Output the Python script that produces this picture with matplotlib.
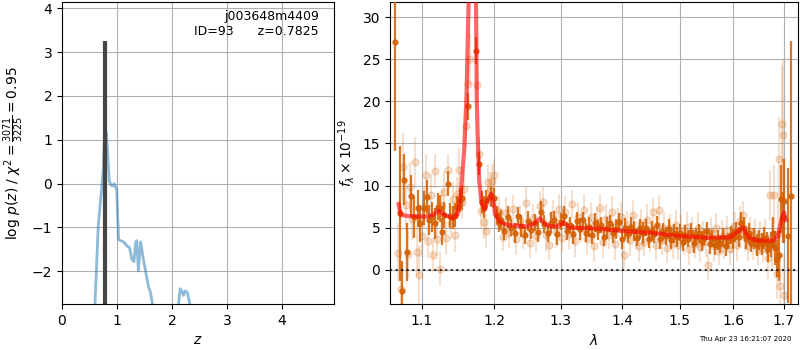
import matplotlib
matplotlib.use('Agg')
import matplotlib.pyplot as plt
from matplotlib.ticker import FixedLocator, NullLocator, FormatStrFormatter

# Redshift fit: log p(z)
pz_z = [0.55, 0.60, 0.66, 0.72, 0.75, 0.767, 0.794, 0.81, 0.86, 0.90, 0.93, 0.95,
        0.964, 0.994, 1.03, 1.06, 1.12, 1.18, 1.23, 1.27, 1.31, 1.34, 1.36, 1.39,
        1.43, 1.48, 1.57, 1.61, 1.66, 1.75, 2.08, 2.12, 2.15, 2.18, 2.21, 2.24,
        2.28, 2.31, 2.34, 2.40]
pz_logp = [-4.5, -2.75, -0.96, -0.13, 0.33, 0.9, 1.2, 1.15, 0.06, -0.05, -0.05, 0.0,
           -0.04, -0.13, -1.27, -1.3, -1.33, -1.42, -1.46, -1.72, -1.78, -1.35, -1.3, -1.99,
           -1.33, -1.72, -2.33, -2.48, -2.85, -4.5, -4.5, -2.75, -2.4, -2.45, -2.55, -2.45,
           -2.48, -2.65, -2.85, -4.5]
z_best = 0.7825
pz_peak = 3.25

# Spectrum, binned (dark) points
wave_dark = [1.066, 1.0713, 1.0743, 1.0775, 1.0803, 1.0855, 1.0896, 1.0946, 1.0983, 1.1038,
             1.107, 1.1102, 1.1143, 1.118, 1.1216, 1.125, 1.1269, 1.1298, 1.1355, 1.1385,
             1.142, 1.145, 1.148, 1.1523, 1.1553, 1.1633, 1.1742, 1.1781, 1.1822, 1.185,
             1.1882, 1.1955, 1.200, 1.2044, 1.2072,
             1.210, 1.215, 1.220, 1.225, 1.230, 1.235, 1.240, 1.245, 1.250, 1.255,
             1.260, 1.265, 1.270, 1.275, 1.280, 1.285, 1.290, 1.295, 1.300, 1.305,
             1.310, 1.315, 1.320, 1.325, 1.330, 1.335, 1.340, 1.345, 1.350, 1.355,
             1.360, 1.365, 1.370, 1.375, 1.380, 1.385, 1.390, 1.395, 1.400, 1.405,
             1.410, 1.415, 1.420, 1.425, 1.430, 1.435, 1.440, 1.445, 1.450, 1.455,
             1.460, 1.465, 1.470, 1.475, 1.480, 1.485, 1.490, 1.495, 1.500, 1.505,
             1.510, 1.515, 1.520, 1.525, 1.530, 1.535, 1.540, 1.545, 1.550, 1.555,
             1.560, 1.565, 1.570, 1.575, 1.580, 1.585, 1.590, 1.595, 1.600, 1.605,
             1.610, 1.615, 1.620, 1.625, 1.630, 1.635, 1.640, 1.645, 1.650, 1.655,
             1.660,
             1.665, 1.668, 1.673, 1.678, 1.682, 1.685, 1.690, 1.694, 1.698, 1.701,
             1.708, 1.714]
flux_dark = [27.1, 6.7, -2.5, 10.7, 2.1, 8.7, 6.3, 7.3, 5.5, 7.3,
             8.6, 5.9, 6.3, 5.5, 7.5, 7.3, 4.5, 6.5, 10.2, 6.4,
             6.2, 6.5, 7.4, 8.3, 8.5, 19.4, 26.0, 12.6, 8.0, 7.4,
             8.3, 8.7, 8.5, 6.5, 5.6,
             5.9, 4.6, 6.3, 5.0, 4.4, 6.4, 5.2, 4.1, 5.8, 4.7,
             5.6, 4.5, 6.9, 5.4, 4.3, 5.6, 5.9, 4.2, 5.7, 6.4,
             4.6, 5.3, 4.2, 5.8, 4.8, 5.9, 4.4, 5.1, 4.1, 5.6,
             4.7, 5.3, 3.9, 4.9, 5.5, 4.3, 4.8, 5.7, 3.6, 4.9,
             4.2, 5.1, 4.6, 3.8, 4.9, 4.4, 5.0, 3.7, 4.6, 4.2,
             5.3, 3.6, 4.5, 4.0, 4.8, 3.5, 4.3, 3.9, 4.4, 3.3,
             4.1, 3.7, 4.5, 3.2, 3.9, 4.3, 3.4, 3.8, 4.6, 3.1,
             3.7, 2.9, 3.5, 3.0, 3.9, 2.8, 3.4, 4.1, 3.6, 4.6,
             3.9, 5.5, 5.0, 3.6, 4.3, 3.2, 3.7, 2.9, 3.5, 3.1,
             3.8,
             3.2, 2.45, 3.0, 4.4, 2.6, 1.3, 1.7, 8.4, 6.2, 8.2,
             4.05, 8.7]
err_dark = [13.0, 8.0, 3.5, 3.0, 3.5, 2.5, 2.5, 2.2, 2.2, 2.0,
            2.0, 1.8, 1.8, 1.8, 1.6, 1.6, 1.6, 1.5, 1.5, 1.5,
            1.4, 1.4, 1.4, 1.4, 1.4, 1.6, 1.6, 1.4, 1.3, 1.3,
            1.2, 1.2, 1.2, 1.1, 1.1,
            1.2, 1.1, 1.3, 1.0, 1.2, 1.1, 1.3, 1.0, 1.2, 1.1,
            1.0, 1.2, 1.3, 1.1, 1.0, 1.2, 1.1, 1.3, 1.0, 1.2,
            1.1, 1.0, 1.2, 1.1, 1.3, 1.0, 1.1, 1.2, 1.0, 1.1,
            1.2, 1.0, 1.1, 1.3, 1.0, 1.1, 1.2, 1.0, 1.1, 1.2,
            1.0, 1.1, 1.2, 1.0, 1.1, 1.3, 1.0, 1.1, 1.2, 1.0,
            1.1, 1.2, 1.0, 1.1, 1.2, 1.0, 1.1, 1.2, 1.0, 1.1,
            1.2, 1.0, 1.1, 1.2, 1.0, 1.1, 1.2, 1.0, 1.1, 1.2,
            1.0, 1.1, 1.2, 1.0, 1.1, 1.2, 1.0, 1.1, 1.2, 1.1,
            1.2, 1.3, 1.2, 1.1, 1.2, 1.1, 1.2, 1.3, 1.2, 1.3,
            1.3,
            1.3, 1.5, 1.5, 1.8, 2.0, 2.2, 3.0, 4.0, 3.0, 5.0,
            8.0, 18.5]

# Spectrum, individual (light) points
wave_light = [1.069, 1.073, 1.076, 1.079, 1.082, 1.085, 1.088, 1.091, 1.094, 1.097,
              1.100, 1.103, 1.106, 1.109, 1.112, 1.115, 1.118, 1.121, 1.124, 1.127,
              1.130, 1.133, 1.136, 1.139, 1.142, 1.145, 1.148, 1.151, 1.154, 1.157,
              1.160, 1.163, 1.166, 1.176, 1.179, 1.182, 1.185, 1.188, 1.191, 1.194,
              1.197, 1.200, 1.203,
              1.2075, 1.2125, 1.2175, 1.2225, 1.2275, 1.2325, 1.2375, 1.2425, 1.2475, 1.2525,
              1.2575, 1.2625, 1.2675, 1.2725, 1.2775, 1.2825, 1.2875, 1.2925, 1.2975, 1.3025,
              1.3075, 1.3125, 1.3175, 1.3225, 1.3275, 1.3325, 1.3375, 1.3425, 1.3475, 1.3525,
              1.3575, 1.3625, 1.3675, 1.3725, 1.3775, 1.3825, 1.3875, 1.3925, 1.3975, 1.4025,
              1.4075, 1.4125, 1.4175, 1.4225, 1.4275, 1.4325, 1.4375, 1.4425, 1.4475, 1.4525,
              1.4575, 1.4625, 1.4675, 1.4725, 1.4775, 1.4825, 1.4875, 1.4925, 1.4975, 1.5025,
              1.5075, 1.5125, 1.5175, 1.5225, 1.5275, 1.5325, 1.5375, 1.5425, 1.5475, 1.5525,
              1.5575, 1.5625, 1.5675, 1.5725, 1.5775, 1.5825, 1.5875, 1.5925, 1.5975, 1.6025,
              1.6075, 1.6125, 1.6175, 1.6225, 1.6275, 1.6325, 1.6375, 1.6425, 1.6475, 1.6525,
              1.6575,
              1.6625, 1.6675, 1.672, 1.676, 1.680, 1.685, 1.688, 1.6905, 1.693, 1.696,
              1.699, 1.701]
flux_light = [2.0, -2.3, 12.2, 7.7, 1.9, 9.8, 6.0, 12.8, 2.1, -0.6,
              4.0, 7.4, 11.2, 3.4, 8.9, 1.8, 11.7, 3.6, 0.1, 7.6,
              9.2, 3.8, 11.8, 5.6, 8.4, 4.1, 9.0, 11.9, 8.0, 9.6,
              17.1, 22.1, 25.0, 21.9, 13.8, 7.0, 5.7, 4.6, 10.4, 9.6,
              10.5, 11.3, 6.8,
              7.0, 3.9, 6.7, 4.4, 7.2, 3.7, 5.9, 4.2, 7.9, 3.2,
              6.1, 4.0, 7.6, 8.1, 4.1, 2.9, 6.6, 4.5, 7.2, 3.8,
              6.9, 4.2, 7.8, 3.4, 6.2, 5.0, 7.1, 3.6, 6.3, 2.8,
              5.7, 7.3, 3.3, 6.0, 4.1, 6.8, 3.0, 5.6, 6.2, 1.8,
              5.3, 3.5, 6.5, 4.0, 2.8, 5.4, 3.3, 5.9, 3.9, 6.8,
              2.9, 7.1, 3.5, 5.0, 2.6, 4.9, 3.2, 5.3, 2.9, 4.6,
              3.6, 5.1, 2.5, 4.4, 3.1, 5.0, 2.7, 4.1, 3.4, 0.6,
              4.5, 2.8, 4.9, 2.2, 4.0, 3.1, 4.7, 2.4, 3.8, 5.2,
              2.9, 5.8, 6.5, 4.1, 2.8, 4.6, 3.0, 4.2, 2.3, 3.9,
              2.6,
              4.0, 1.4, 8.9, 3.0, 8.9, -0.5, 4.2, 13.1, -2.0, 17.3,
              16.0, -3.0]
err_light = [3.5, 3.0, 4.0, 3.0, 3.0, 3.0, 2.5, 3.0, 3.0, 3.5,
             2.5, 2.5, 2.5, 2.0, 2.5, 2.0, 2.0, 2.0, 2.0, 2.0,
             2.5, 2.0, 2.0, 2.0, 2.0, 2.0, 2.0, 2.5, 2.0, 2.0,
             2.5, 3.0, 3.0, 2.5, 2.0, 2.0, 2.0, 2.0, 2.0, 2.0,
             2.0, 1.8, 1.8,
             1.8, 1.7, 1.9, 1.8, 1.7, 1.9, 1.8, 1.7, 1.9, 1.8,
             1.7, 1.9, 1.8, 1.7, 1.9, 1.8, 1.7, 1.9, 1.8, 1.7,
             1.9, 1.8, 1.7, 1.9, 1.8, 1.7, 1.9, 1.8, 1.7, 1.9,
             1.8, 1.7, 1.9, 1.8, 1.7, 1.9, 1.8, 1.7, 1.9, 1.8,
             1.7, 1.9, 1.8, 1.7, 1.9, 1.8, 1.7, 1.9, 1.8, 1.7,
             1.9, 1.8, 1.7, 1.9, 1.8, 1.7, 1.9, 1.8, 1.7, 1.9,
             1.8, 1.7, 1.9, 1.8, 1.7, 1.9, 1.8, 1.7, 1.9, 1.8,
             1.7, 1.9, 1.8, 1.7, 1.9, 1.8, 1.7, 1.9, 1.8, 1.7,
             1.9, 1.8, 1.7, 1.9, 1.8, 1.7, 1.9, 1.8, 1.7, 1.9,
             1.8,
             2.0, 2.5, 3.0, 3.0, 3.5, 3.0, 4.0, 5.0, 4.0, 7.0,
             9.0, 5.0]

# Best-fit model
model_wave = [1.070, 1.0725, 1.085, 1.1063, 1.115, 1.1219, 1.128, 1.131, 1.142, 1.1487,
              1.153, 1.1577, 1.1608, 1.164, 1.167, 1.1698, 1.1725, 1.1745, 1.1754, 1.1768,
              1.1788, 1.1821, 1.1865, 1.191, 1.1955, 1.1986, 1.202, 1.209, 1.2207, 1.248,
              1.258, 1.268, 1.275, 1.283, 1.296, 1.305, 1.313, 1.357, 1.400, 1.445,
              1.501, 1.550, 1.594, 1.604, 1.618, 1.629, 1.645, 1.678, 1.688, 1.695,
              1.700, 1.704]
model_flux = [7.8, 6.5, 6.35, 6.3, 6.5, 7.0, 6.7, 6.5, 6.1, 6.6,
              9.0, 14.2, 20.2, 32.0, 48.0, 60.0, 48.0, 30.0, 20.0, 15.4,
              10.6, 7.9, 7.1, 8.25, 9.0, 8.2, 6.5, 5.67, 5.3, 5.15,
              5.4, 6.1, 5.5, 5.15, 5.15, 5.6, 5.0, 4.9, 4.6, 4.4,
              4.0, 3.8, 3.85, 4.3, 5.0, 3.85, 3.45, 3.45, 4.0, 6.0,
              6.8, 5.9]

wave_ticks = [1.1, 1.2, 1.3, 1.4, 1.5, 1.6, 1.7]
spec_color = '#d45f00'

fig = plt.figure(figsize=(8, 3.5), dpi=100)
ax1 = fig.add_axes([0.0775, 0.131, 0.34, 0.863])
ax2 = fig.add_axes([0.4875, 0.131, 0.51, 0.863])

# p(z) panel
ax1.plot(pz_z, pz_logp, color='C0', alpha=0.5, lw=2)
ax1.plot([z_best, z_best], [-10, pz_peak], color='0.27', lw=3, solid_capstyle='butt')
ax1.set_xlim(0, 4.95)
ax1.set_ylim(-2.75, 4.14)
ax1.set_xticks([0, 1, 2, 3, 4])
ax1.set_xlabel('$z$')
ax1.set_ylabel(r'log $p(z)$ / $\chi^2=\frac{3071}{3225}=0.95$')
ax1.grid(True)
ax1.text(0.945, 0.975, 'j003648m4409\nID=93      z=0.7825', ha='right', va='top',
         transform=ax1.transAxes, fontsize=9)

# spectrum panel
ax2.errorbar(wave_light, flux_light, yerr=err_light, fmt='o', ms=5, color=spec_color,
             alpha=0.2, elinewidth=1.5, capsize=0, zorder=2)
ax2.errorbar(wave_dark, flux_dark, yerr=err_dark, fmt='o', ms=3.5, color=spec_color,
             alpha=0.85, elinewidth=1.6, capsize=0, zorder=3)
ax2.plot(model_wave, model_flux, color='r', alpha=0.6, lw=3, zorder=4)
ax2.axhline(0, color='k', ls=':', lw=1.5, alpha=0.8, zorder=5)
ax2.set_xscale('log')
ax2.set_xlim(1.059, 1.729)
ax2.xaxis.set_major_locator(FixedLocator(wave_ticks))
ax2.xaxis.set_minor_locator(NullLocator())
ax2.xaxis.set_major_formatter(FormatStrFormatter('%.1f'))
ax2.set_ylim(-4.1, 31.8)
ax2.set_xlabel(r'$\lambda$')
ax2.set_ylabel(r'$f_\lambda\times10^{-19}$')
ax2.grid(True)

fig.text(0.99, 0.031, 'Thu Apr 23 16:21:07 2020', ha='right', va='center', fontsize=5)

fig.savefig('out.png', dpi=100)
